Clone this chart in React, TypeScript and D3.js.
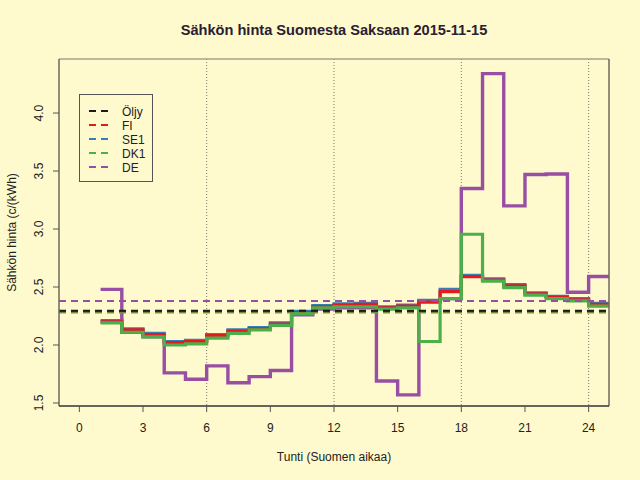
import React from "react";
import * as d3 from "d3";

const hours = [1,2,3,4,5,6,7,8,9,10,11,12,13,14,15,16,17,18,19,20,21,22,23,24];
const fiValues = [2.20,2.13,2.09,2.02,2.03,2.08,2.12,2.14,2.18,2.28,2.33,2.345,2.35,2.32,2.335,2.37,2.46,2.59,2.56,2.51,2.44,2.414,2.39,2.35];
const se1Values = [2.21,2.14,2.10,2.03,2.04,2.09,2.13,2.15,2.19,2.29,2.34,2.355,2.36,2.33,2.345,2.385,2.48,2.60,2.57,2.52,2.45,2.42,2.40,2.36];
const dk1Values = [2.19,2.11,2.07,2.00,2.01,2.06,2.10,2.13,2.17,2.27,2.32,2.33,2.33,2.31,2.32,2.03,2.40,2.955,2.55,2.495,2.43,2.40,2.38,2.335];
const deValues = [2.48,2.11,2.07,1.76,1.705,1.82,1.675,1.727,1.78,2.26,2.31,2.32,2.32,1.69,1.57,2.38,2.40,3.35,4.34,3.20,3.47,3.475,2.455,2.59];

const seriesNames = ["Öljy", "FI", "SE1", "DK1", "DE"];
const seriesColors = ["#1a1a1a", "#e41a1c", "#377eb8", "#4daf4a", "#984ea3"];
const averages = [2.295, 2.29, 2.293, 2.28, 2.38];

const xTicks = [0, 3, 6, 9, 12, 15, 18, 21, 24];
const yTicks = [1.5, 2.0, 2.5, 3.0, 3.5, 4.0];
const gridHours = [6, 12, 18, 24];

const title = "Sähkön hinta Suomesta Saksaan 2015-11-15";
const xLabel = "Tunti (Suomen aikaa)";
const yLabel = "Sähkön hinta (c/(kWh)";

export default function App() {
  const left = 59, right = 609, top = 59, bottom = 406;
  const x = d3.scaleLinear().domain([-0.96, 24.96]).range([left, right]);
  const y = d3.scaleLinear().domain([1.474, 4.466]).range([bottom, top]);
  const line = d3
    .line<[number, number]>()
    .x((d) => x(d[0]))
    .y((d) => y(d[1]))
    .curve(d3.curveStepAfter);
  const stepPath = (vals: number[]) => {
    const pts: [number, number][] = hours.map((h, i) => [h, vals[i]]);
    pts.push([hours[hours.length - 1] + 1, vals[vals.length - 1]]);
    return line(pts) || "";
  };
  const steps = [
    { vals: deValues, color: seriesColors[4], w: 3.4 },
    { vals: se1Values, color: seriesColors[2], w: 3.2 },
    { vals: fiValues, color: seriesColors[1], w: 3.2 },
    { vals: dk1Values, color: seriesColors[3], w: 3.2 },
  ];
  const dashOrder = [4, 3, 2, 1, 0];
  const font = "'Liberation Sans', Arial, Helvetica, sans-serif";
  const textColor = "#222222";
  return (
    <svg
      width={640}
      height={480}
      style={{ position: "absolute", left: 0, top: 0 }}
      fontFamily={font}
    >
      <rect x={0} y={0} width={640} height={480} fill="#fffacd" />
      <defs>
        <clipPath id="plotclip">
          <rect x={left} y={top} width={right - left} height={bottom - top} />
        </clipPath>
      </defs>
      {gridHours.map((h) => (
        <line
          key={"g" + h}
          x1={x(h)}
          x2={x(h)}
          y1={top}
          y2={bottom}
          stroke="#7a7a6a"
          strokeWidth={1}
          strokeDasharray="1,2"
        />
      ))}
      <g clipPath="url(#plotclip)">
        {steps.map((s, i) => (
          <path
            key={"s" + i}
            d={stepPath(s.vals)}
            fill="none"
            stroke={s.color}
            strokeWidth={s.w}
            strokeLinejoin="miter"
          />
        ))}
        {dashOrder.map((k) => (
          <line
            key={"a" + k}
            x1={left}
            x2={right}
            y1={y(averages[k])}
            y2={y(averages[k])}
            stroke={seriesColors[k]}
            strokeWidth={2}
            strokeDasharray="7,5"
          />
        ))}
      </g>
      <line x1={left} x2={right} y1={top} y2={top} stroke="#a8a088" strokeWidth={1.5} />
      <line x1={right} x2={right} y1={top} y2={bottom} stroke="#6e6858" strokeWidth={1.5} />
      <line x1={left} x2={left} y1={top} y2={bottom} stroke="#6e6858" strokeWidth={1.5} />
      <line x1={left} x2={right} y1={bottom} y2={bottom} stroke="#333333" strokeWidth={1.5} />
      {xTicks.map((t) => (
        <g key={"xt" + t}>
          <line x1={x(t)} x2={x(t)} y1={bottom} y2={bottom + 6} stroke="#555" strokeWidth={1} />
          <text x={x(t)} y={432} textAnchor="middle" fontSize={12} fill={textColor}>
            {t}
          </text>
        </g>
      ))}
      {yTicks.map((t) => (
        <g key={"yt" + t}>
          <line x1={left - 6} x2={left} y1={y(t)} y2={y(t)} stroke="#555" strokeWidth={1} />
          <text
            transform={`translate(43,${y(t)}) rotate(-90)`}
            textAnchor="middle"
            fontSize={12}
            fill={textColor}
          >
            {t.toFixed(1)}
          </text>
        </g>
      ))}
      <text x={334} y={35} textAnchor="middle" fontSize={14.6} fontWeight="bold" fill="#2a2030">
        {title}
      </text>
      <text x={334} y={461} textAnchor="middle" fontSize={12} fill={textColor}>
        {xLabel}
      </text>
      <text
        transform={`translate(16,${(top + bottom) / 2}) rotate(-90)`}
        textAnchor="middle"
        fontSize={12}
        fill={textColor}
      >
        {yLabel}
      </text>
      <rect x={79.5} y={94.5} width={73} height={87} fill="none" stroke="#555" strokeWidth={1} />
      {seriesNames.map((n, i) => (
        <g key={"l" + n}>
          <line
            x1={89}
            x2={110}
            y1={111 + i * 14}
            y2={111 + i * 14}
            stroke={seriesColors[i]}
            strokeWidth={2}
            strokeDasharray="7,5"
          />
          <text x={122} y={115.5 + i * 14} fontSize={12} fill={textColor}>
            {n}
          </text>
        </g>
      ))}
    </svg>
  );
}
